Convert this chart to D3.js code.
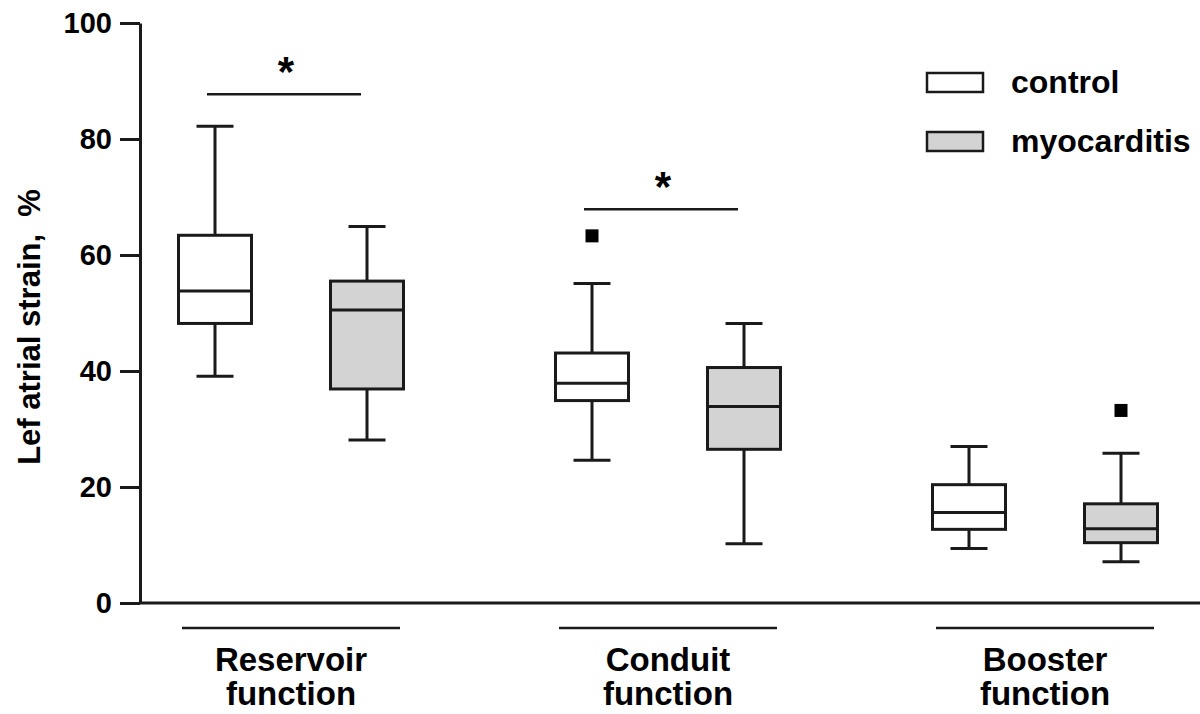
<!DOCTYPE html>
<html lang="en">
<head>
<meta charset="utf-8">
<script src="https://d3js.org/d3.v7.min.js"></script>
<style type="text/css">
body {
	margin: 0;
	background: #fff;
}
text {
	font-family: "Liberation Sans", Arial, sans-serif;
	font-weight: bold;
	fill: #000;
}
</style>
</head>
<body>

<svg id="chart" width="1200" height="714"></svg>

<script type="text/javascript">

	// groups along the x axis
	var groups = ["Reservoir function", "Conduit function", "Booster function"];
	var series = ["control", "myocarditis"];

	// box stats per group: [min, q1, median, q3, max]
	var controlStats = [[39.1, 48.2, 53.8, 63.4, 82.2], [24.6, 34.9, 37.9, 43.1, 55.1], [9.4, 12.7, 15.6, 20.4, 27.0]];
	var myocarditisStats = [[28.1, 36.9, 50.5, 55.5, 64.9], [10.2, 26.5, 33.9, 40.6, 48.2], [7.1, 10.4, 12.8, 17.1, 25.8]];

	// single outlier points
	var outliers = [
		{group: "Conduit function", series: "control", value: 63.3},
		{group: "Booster function", series: "myocarditis", value: 33.2}
	];

	// significance bars (value = height of the bar)
	var sigBars = [
		{group: "Reservoir function", value: 87.7},
		{group: "Conduit function", value: 67.9}
	];

	var yTicks = [0, 20, 40, 60, 80, 100];

	var fills = {control: "#ffffff", myocarditis: "#d3d3d3"};
	var ink = "#1a1a1a";

	var svg = d3.select("#chart");

	var y = d3.scaleLinear().domain([0, 100]).range([603, 23]);
	var x = d3.scalePoint().domain(groups).range([291, 1045]);
	var sub = d3.scalePoint().domain(series).range([-76, 76]);

	var boxW = 73, capW = 37;

	// y axis
	var yAxis = svg.append("g")
		.attr("transform", "translate(140,0)")
		.call(d3.axisLeft(y).tickValues(yTicks).tickSize(20).tickSizeOuter(0).tickPadding(8));
	yAxis.select(".domain").attr("stroke", ink).attr("stroke-width", 3);
	yAxis.selectAll(".tick line").attr("stroke", ink).attr("stroke-width", 3);
	yAxis.selectAll(".tick text")
		.attr("font-family", "'Liberation Sans', Arial, sans-serif")
		.attr("font-weight", "bold")
		.attr("font-size", 29)
		.attr("fill", "#000");

	// x axis baseline
	svg.append("line")
		.attr("x1", 140).attr("x2", 1200)
		.attr("y1", y(0)).attr("y2", y(0))
		.attr("stroke", ink).attr("stroke-width", 3);

	// y axis title
	svg.append("text")
		.attr("transform", "translate(40," + 327 + ") rotate(-90)")
		.attr("text-anchor", "middle")
		.attr("font-size", 31)
		.style("white-space", "pre")
		.text("Lef atrial strain,  %");

	// boxes
	var boxes = [];
	groups.forEach(function(g, i) {
		boxes.push({group: g, series: "control", s: controlStats[i]});
		boxes.push({group: g, series: "myocarditis", s: myocarditisStats[i]});
	});

	var box = svg.selectAll("g.box")
		.data(boxes)
		.join("g")
		.attr("class", "box")
		.attr("transform", function(d) { return "translate(" + (x(d.group) + sub(d.series)) + ",0)"; });

	// whiskers
	box.append("line")
		.attr("x1", 0).attr("x2", 0)
		.attr("y1", function(d) { return y(d.s[0]); })
		.attr("y2", function(d) { return y(d.s[1]); })
		.attr("stroke", ink).attr("stroke-width", 3);
	box.append("line")
		.attr("x1", 0).attr("x2", 0)
		.attr("y1", function(d) { return y(d.s[3]); })
		.attr("y2", function(d) { return y(d.s[4]); })
		.attr("stroke", ink).attr("stroke-width", 3);
	// caps
	box.selectAll("line.cap")
		.data(function(d) { return [d.s[0], d.s[4]]; })
		.join("line")
		.attr("class", "cap")
		.attr("x1", -capW / 2).attr("x2", capW / 2)
		.attr("y1", function(v) { return y(v); })
		.attr("y2", function(v) { return y(v); })
		.attr("stroke", ink).attr("stroke-width", 3);
	// box body
	box.append("rect")
		.attr("x", -boxW / 2)
		.attr("width", boxW)
		.attr("y", function(d) { return y(d.s[3]); })
		.attr("height", function(d) { return y(d.s[1]) - y(d.s[3]); })
		.attr("fill", function(d) { return fills[d.series]; })
		.attr("stroke", ink).attr("stroke-width", 3);
	// median
	box.append("line")
		.attr("x1", -boxW / 2).attr("x2", boxW / 2)
		.attr("y1", function(d) { return y(d.s[2]); })
		.attr("y2", function(d) { return y(d.s[2]); })
		.attr("stroke", ink).attr("stroke-width", 3);

	// outliers
	svg.selectAll("rect.outlier")
		.data(outliers)
		.join("rect")
		.attr("class", "outlier")
		.attr("x", function(d) { return x(d.group) + sub(d.series) - 6.5; })
		.attr("y", function(d) { return y(d.value) - 6.5; })
		.attr("width", 13).attr("height", 13)
		.attr("fill", "#000");

	// significance bars with stars
	svg.selectAll("line.sig")
		.data(sigBars)
		.join("line")
		.attr("class", "sig")
		.attr("x1", function(d) { return x(d.group) + sub("control") - 8; })
		.attr("x2", function(d) { return x(d.group) + sub("myocarditis") - 6; })
		.attr("y1", function(d) { return y(d.value); })
		.attr("y2", function(d) { return y(d.value); })
		.attr("stroke", ink).attr("stroke-width", 2.5);
	svg.selectAll("text.star")
		.data(sigBars)
		.join("text")
		.attr("class", "star")
		.attr("x", function(d) { return x(d.group) - 5; })
		.attr("y", function(d) { return y(d.value) - 8; })
		.attr("text-anchor", "middle")
		.attr("font-size", 42)
		.text("*");

	// group underlines and labels
	var grp = svg.selectAll("g.grp")
		.data(groups)
		.join("g")
		.attr("class", "grp")
		.attr("transform", function(d) { return "translate(" + x(d) + ",0)"; });
	grp.append("line")
		.attr("x1", -109).attr("x2", 109)
		.attr("y1", 628).attr("y2", 628)
		.attr("stroke", ink).attr("stroke-width", 2.5);
	grp.append("text")
		.attr("text-anchor", "middle")
		.attr("font-size", 33)
		.selectAll("tspan")
		.data(function(d) { return d.split(" "); })
		.join("tspan")
		.attr("x", 0)
		.attr("y", function(d, i) { return 671 + i * 34; })
		.text(function(d) { return d; });

	// legend
	var leg = svg.selectAll("g.legend")
		.data(series)
		.join("g")
		.attr("class", "legend")
		.attr("transform", function(d, i) { return "translate(927," + (73 + i * 59) + ")"; });
	leg.append("rect")
		.attr("width", 56).attr("height", 19)
		.attr("fill", function(d) { return fills[d]; })
		.attr("stroke", ink).attr("stroke-width", 2.5);
	leg.append("text")
		.attr("x", 84)
		.attr("y", 20)
		.attr("font-size", 32)
		.text(function(d) { return d; });

</script>
</body>
</html>
